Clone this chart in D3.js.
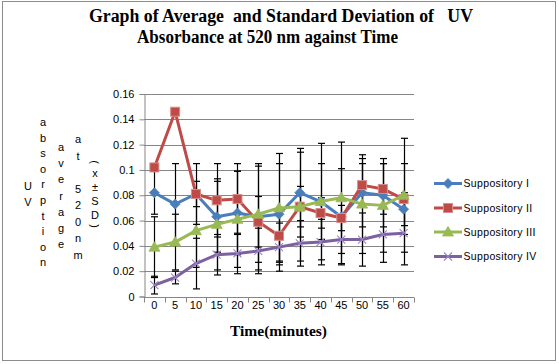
<!DOCTYPE html>
<html>
<head>
<meta charset="utf-8">
<script src="https://cdn.jsdelivr.net/npm/d3@7"></script>
<style>
  html, body { margin: 0; padding: 0; background: #fff; }
  svg { display: block; }
</style>
</head>
<body>
<svg id="chart" width="559" height="364"></svg>
<script>
// ---------------- data ----------------
const times = ["0", "5", "10", "15", "20", "25", "30", "35", "40", "45", "50", "55", "60"];
const seriesNames = ["Suppository I", "Suppository II", "Suppository III", "Suppository IV"];
const supp1 = [0.082, 0.073, 0.081, 0.063, 0.066, 0.063, 0.065, 0.082, 0.075, 0.063, 0.082, 0.080, 0.069];
const supp2 = [0.102, 0.146, 0.081, 0.076, 0.077, 0.059, 0.048, 0.071, 0.066, 0.062, 0.088, 0.085, 0.077];
const supp3 = [0.039, 0.043, 0.052, 0.057, 0.061, 0.065, 0.070, 0.071, 0.075, 0.078, 0.073, 0.072, 0.080];
const supp4 = [0.009, 0.015, 0.026, 0.033, 0.034, 0.036, 0.039, 0.042, 0.043, 0.045, 0.045, 0.049, 0.050];
const sd1 = [0.017, 0.032, 0.024, 0.028, 0.033, 0.042, 0.040, 0.035, 0.030, 0.038, 0.027, 0.025, 0.013];
const sd2 = [0.003, 0.002, 0.010, 0.029, 0.028, 0.020, 0.020, 0.016, 0.012, 0.010, 0.017, 0.020, 0.028];
const sd3 = [0.024, 0.022, 0.029, 0.036, 0.038, 0.038, 0.043, 0.043, 0.046, 0.044, 0.039, 0.037, 0.045];
const sd4 = [0.007, 0.005, 0.020, 0.016, 0.016, 0.018, 0.019, 0.018, 0.018, 0.019, 0.021, 0.022, 0.025];
const yTicks = [0, 0.02, 0.04, 0.06, 0.08, 0.1, 0.12, 0.14, 0.16];
const titleLines = ["Graph of Average  and Standard Deviation of   UV", "Absorbance at 520 nm against Time"];
const xTitle = "Time(minutes)";
const yTitleColumns = ["UV", "absorption", "average", "at 520nm", "(x\u00B1SD)"];

// ---------------- layout ----------------
const colors = ["#4A7EBB", "#BE4B48", "#98B954", "#7D60A0"];
const markers = ["diamond", "square", "triangle", "x"];
const values = [supp1, supp2, supp3, supp4];
const sds = [sd1, sd2, sd3, sd4];

const svg = d3.select("#chart");
const plot = { left: 144, right: 414, top: 94, bottom: 296.5 };

// chart border
svg.append("rect").attr("x", 2.5).attr("y", 1.5).attr("width", 553).attr("height", 359)
  .attr("fill", "#fff").attr("stroke", "#8c8c8c").attr("stroke-width", 1);

const x = d3.scaleBand().domain(times).range([plot.left, plot.right]).paddingInner(0).paddingOuter(0);
const y = d3.scaleLinear().domain([0, 0.16]).range([plot.bottom, plot.top]);
const cx = t => x(t) + x.bandwidth() / 2;

// gridlines
svg.append("g").selectAll("line").data(yTicks.filter(d => d > 0)).join("line")
  .attr("x1", plot.left).attr("x2", plot.right)
  .attr("y1", d => Math.round(y(d)) + 0.5).attr("y2", d => Math.round(y(d)) + 0.5)
  .attr("stroke", "#868686").attr("stroke-width", 1);

// y axis
const yAxis = d3.axisLeft(y).tickValues(yTicks).tickSize(5).tickPadding(5)
  .tickFormat(d => d === 0 ? "0" : String(+d.toFixed(2)));
const gy = svg.append("g").attr("transform", `translate(${plot.left + 0.5},0)`).call(yAxis);
gy.select(".domain").attr("stroke", "#868686");
gy.selectAll(".tick line").attr("stroke", "#868686");
gy.selectAll(".tick text").attr("font-family", "Liberation Sans, Arial, sans-serif")
  .attr("font-size", "11px").attr("fill", "#000");

// x axis: ticks between categories
const xAxisG = svg.append("g");
xAxisG.append("line").attr("x1", plot.left).attr("x2", plot.right)
  .attr("y1", Math.round(plot.bottom) + 0.5).attr("y2", Math.round(plot.bottom) + 0.5)
  .attr("stroke", "#868686");
const boundaries = times.map(t => x(t)).concat([plot.right]);
xAxisG.selectAll("line.tk").data(boundaries).join("line").attr("class", "tk")
  .attr("x1", d => Math.round(d) + 0.5).attr("x2", d => Math.round(d) + 0.5)
  .attr("y1", Math.round(plot.bottom) + 0.5).attr("y2", Math.round(plot.bottom) + 5.5)
  .attr("stroke", "#868686");
xAxisG.selectAll("text").data(times).join("text")
  .attr("x", d => cx(d)).attr("y", 309)
  .attr("text-anchor", "middle")
  .attr("font-family", "Liberation Sans, Arial, sans-serif").attr("font-size", "11px")
  .text(d => d);

// error bars (behind series)
const capW = 3.5;
const eg = svg.append("g");
values.forEach((vals, si) => {
  vals.forEach((v, i) => {
    const t = times[i], xx = Math.round(cx(t)) + 0.5;
    const lo = y(v - sds[si][i]), hi = y(v + sds[si][i]);
    eg.append("line").attr("x1", xx).attr("x2", xx).attr("y1", lo).attr("y2", hi)
      .attr("stroke", "#000").attr("stroke-width", 1.2);
    [lo, hi].forEach(yy => eg.append("line").attr("x1", xx - capW).attr("x2", xx + capW)
      .attr("y1", yy).attr("y2", yy).attr("stroke", "#000").attr("stroke-width", 1.2));
  });
});

// marker drawing
function drawMarker(g, type, px, py, color) {
  if (type === "diamond") {
    g.append("path").attr("d", `M${px},${py - 5}L${px + 5},${py}L${px},${py + 5}L${px - 5},${py}Z`)
      .attr("fill", color).attr("stroke", color).attr("stroke-width", 0.8);
  } else if (type === "square") {
    g.append("rect").attr("x", px - 4.5).attr("y", py - 4.5).attr("width", 9).attr("height", 9)
      .attr("fill", color).attr("stroke", "#D98C8A").attr("stroke-width", 1);
  } else if (type === "triangle") {
    g.append("path").attr("d", `M${px},${py - 5.5}L${px + 5.5},${py + 4}L${px - 5.5},${py + 4}Z`)
      .attr("fill", color).attr("stroke", color).attr("stroke-width", 0.8);
  } else {
    g.append("path").attr("d", `M${px - 4},${py - 4}L${px + 4},${py + 4}M${px - 4},${py + 4}L${px + 4},${py - 4}`)
      .attr("stroke", "#9A84C4").attr("stroke-width", 1.1).attr("fill", "none");
  }
}

// series lines & markers
const line = d3.line().x((d, i) => cx(times[i])).y(d => y(d));
values.forEach((vals, si) => {
  const g = svg.append("g");
  g.append("path").datum(vals).attr("d", line)
    .attr("fill", "none").attr("stroke", colors[si]).attr("stroke-width", 3)
    .attr("stroke-linejoin", "round");
  vals.forEach((v, i) => drawMarker(g, markers[si], cx(times[i]), y(v), colors[si]));
});

// legend
const legY = [183.5, 208, 232, 256.5];
const lg = svg.append("g");
seriesNames.forEach((name, si) => {
  const ly = legY[si];
  lg.append("line").attr("x1", 434).attr("x2", 462).attr("y1", ly).attr("y2", ly)
    .attr("stroke", colors[si]).attr("stroke-width", 3);
  drawMarker(lg, markers[si], 448, ly, colors[si]);
  lg.append("text").attr("x", 463.5).attr("y", ly + 3.8)
    .attr("font-family", "Liberation Sans, Arial, sans-serif").attr("font-size", "10.5px")
    .attr("letter-spacing", "0.35px")
    .text(name);
});

// title
svg.append("text").attr("x", 89).attr("y", 22)
  .attr("font-family", "Liberation Serif, Times New Roman, serif").attr("font-weight", "bold")
  .attr("font-size", "18px").attr("textLength", 384).attr("lengthAdjust", "spacingAndGlyphs")
  .attr("xml:space", "preserve").style("white-space", "pre")
  .text(titleLines[0]);
svg.append("text").attr("x", 137).attr("y", 43)
  .attr("font-family", "Liberation Serif, Times New Roman, serif").attr("font-weight", "bold")
  .attr("font-size", "18px").attr("textLength", 261).attr("lengthAdjust", "spacingAndGlyphs")
  .text(titleLines[1]);

// x title
svg.append("text").attr("x", 278.5).attr("y", 335.5).attr("text-anchor", "middle")
  .attr("font-family", "Liberation Serif, Times New Roman, serif").attr("font-weight", "bold")
  .attr("font-size", "15.5px").text(xTitle);

// y title: stacked columns
const colX = [28, 43, 61, 78, 95];
const colStart = [186, 122, 147, 139, 162];
const colStep = [16, 15.6, 16.2, 16.5, 14];
const yt = svg.append("g").attr("font-family", "Liberation Sans, Arial, sans-serif")
  .attr("font-size", "11px").attr("fill", "#000");
yTitleColumns.forEach((str, ci) => {
  let yy = colStart[ci];
  const chars = Array.from(str);
  chars.forEach((ch, k) => {
    const isParen = ch === "(" || ch === ")";
    const t = yt.append("text").attr("x", colX[ci]).attr("y", yy)
      .attr("text-anchor", "middle").attr("dominant-baseline", "central").text(ch);
    if (isParen) t.attr("transform", `rotate(90 ${colX[ci]} ${yy})`);
    const next = chars[k + 1];
    const step = (isParen || next === "(" || next === ")") ? 11 : colStep[ci];
    yy += step;
  });
});
</script>
</body>
</html>
